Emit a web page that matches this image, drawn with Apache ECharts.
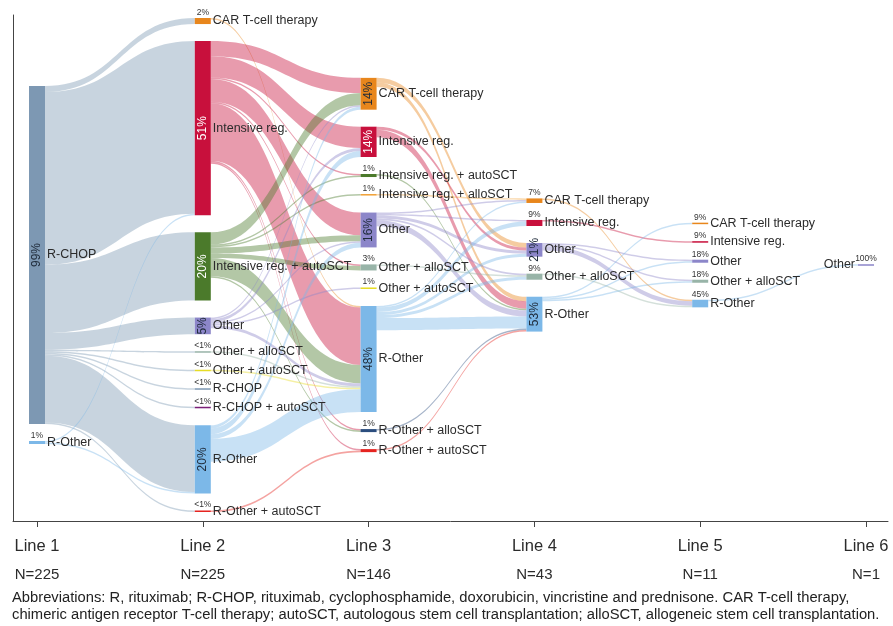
<!DOCTYPE html>
<html><head><meta charset="utf-8">
<script src="https://cdn.jsdelivr.net/npm/echarts@6/dist/echarts.min.js"></script>
<style>html,body{margin:0;padding:0;background:#fff}#c{width:893px;height:626px}</style>
</head><body><div id="c"></div>
<script>
// ---------- DATA ----------
const lineLabels = ['Line 1','Line 2','Line 3','Line 4','Line 5','Line 6'];
const lineN = [225,225,146,43,11,1];

const line1Nodes = ['R-CHOP','R-Other'];
const line1Counts = [223,2];
const line2Nodes = ['CAR T-cell therapy','Intensive reg.','Intensive reg. + autoSCT','Other','Other + alloSCT','Other + autoSCT','R-CHOP','R-CHOP + autoSCT','R-Other','R-Other + autoSCT'];
const line2Counts = [4,115,45,11,1,1,1,1,45,1];
const line3Nodes = ['CAR T-cell therapy','Intensive reg.','Intensive reg. + autoSCT','Intensive reg. + alloSCT','Other','Other + alloSCT','Other + autoSCT','R-Other','R-Other + alloSCT','R-Other + autoSCT'];
const line3Counts = [21,20,2,1,23,4,1,70,2,2];
const line4Nodes = ['CAR T-cell therapy','Intensive reg.','Other','Other + alloSCT','R-Other'];
const line4Counts = [3,4,9,4,23];
const line5Nodes = ['CAR T-cell therapy','Intensive reg.','Other','Other + alloSCT','R-Other'];
const line5Counts = [1,1,2,2,5];
const line6Nodes = ['Other'];
const line6Counts = [1];

const flows1to2 = [
  ['R-CHOP','CAR T-cell therapy',4],
  ['R-CHOP','Intensive reg.',114],
  ['R-CHOP','Intensive reg. + autoSCT',45],
  ['R-CHOP','Other',11],
  ['R-CHOP','Other + alloSCT',1],
  ['R-CHOP','Other + autoSCT',1],
  ['R-CHOP','R-CHOP',1],
  ['R-CHOP','R-CHOP + autoSCT',1],
  ['R-CHOP','R-Other',44],
  ['R-CHOP','R-Other + autoSCT',1],
  ['R-Other','Intensive reg.',1],
  ['R-Other','R-Other',1]
];
const flows2to3 = [
  ['CAR T-cell therapy','R-Other',1],
  ['Intensive reg.','CAR T-cell therapy',10],
  ['Intensive reg.','Intensive reg.',14],
  ['Intensive reg.','Intensive reg. + autoSCT',1],
  ['Intensive reg.','Other',15],
  ['Intensive reg.','Other + alloSCT',1],
  ['Intensive reg.','R-Other',38],
  ['Intensive reg.','R-Other + alloSCT',1],
  ['Intensive reg.','R-Other + autoSCT',1],
  ['Intensive reg. + autoSCT','CAR T-cell therapy',8],
  ['Intensive reg. + autoSCT','Intensive reg. + autoSCT',1],
  ['Intensive reg. + autoSCT','Intensive reg. + alloSCT',1],
  ['Intensive reg. + autoSCT','Other',4],
  ['Intensive reg. + autoSCT','Other + alloSCT',3],
  ['Intensive reg. + autoSCT','R-Other',12],
  ['Intensive reg. + autoSCT','R-Other + alloSCT',1],
  ['Other','CAR T-cell therapy',1],
  ['Other','Intensive reg.',2],
  ['Other','Other',1],
  ['Other','Other + autoSCT',1],
  ['Other','R-Other',2],
  ['Other + alloSCT','R-Other',1],
  ['Other + autoSCT','R-Other',1],
  ['R-Other','CAR T-cell therapy',2],
  ['R-Other','Intensive reg.',4],
  ['R-Other','Other',3],
  ['R-Other','R-Other',15],
  ['R-Other + autoSCT','R-Other + autoSCT',1]
];
const flows3to4 = [
  ['CAR T-cell therapy','Other',3],
  ['CAR T-cell therapy','R-Other',3],
  ['Intensive reg.','Other',2],
  ['Intensive reg.','R-Other',5],
  ['Intensive reg. + autoSCT','R-Other',1],
  ['Intensive reg. + alloSCT','CAR T-cell therapy',1],
  ['Other','CAR T-cell therapy',1],
  ['Other','Intensive reg.',1],
  ['Other','Other',2],
  ['Other','Other + alloSCT',1],
  ['Other','R-Other',4],
  ['Other + alloSCT','Other + alloSCT',1],
  ['R-Other','CAR T-cell therapy',1],
  ['R-Other','Intensive reg.',3],
  ['R-Other','Other',2],
  ['R-Other','Other + alloSCT',2],
  ['R-Other','R-Other',8],
  ['R-Other + alloSCT','R-Other',1],
  ['R-Other + autoSCT','R-Other',1]
];
const flows4to5 = [
  ['CAR T-cell therapy','R-Other',1],
  ['Intensive reg.','Intensive reg.',1],
  ['Other','Other',1],
  ['Other','Other + alloSCT',1],
  ['Other','R-Other',3],
  ['Other + alloSCT','R-Other',1],
  ['R-Other','CAR T-cell therapy',1],
  ['R-Other','Other',1],
  ['R-Other','Other + alloSCT',1]
];
const flows5to6 = [
  ['R-Other','Other',1]
];

const caption = 'Abbreviations: R, rituximab; R-CHOP, rituximab, cyclophosphamide, doxorubicin, vincristine and prednisone. CAR T-cell therapy,\nchimeric antigen receptor T-cell therapy; autoSCT, autologous stem cell transplantation; alloSCT, allogeneic stem cell transplantation.';

// ---------- STYLE ----------
const COLORS = {
  'CAR T-cell therapy': '#e8861c',
  'Intensive reg.': '#c8103c',
  'Intensive reg. + autoSCT': '#4b7a2b',
  'Intensive reg. + alloSCT': '#f0a035',
  'Other': '#8c86c9',
  'Other + alloSCT': '#98b4a8',
  'Other + autoSCT': '#e6dc25',
  'R-CHOP': '#7d98b3',
  'R-CHOP + autoSCT': '#7a1f78',
  'R-Other': '#7cb8e8',
  'R-Other + alloSCT': '#2b4d7e',
  'R-Other + autoSCT': '#e52420'
};
const FONT = '"Liberation Sans", Arial, Helvetica, sans-serif';
const S_LEFT = 29, S_RIGHT = 19, S_TOP = 18, S_BOTTOM = 114, NODE_W = 16, GAP = 17;
const GRID_LEFT = 13, GRID_RIGHT = 5, GRID_TOP = 15, GRID_BOTTOM = 105;
const W = 893 - S_LEFT - S_RIGHT, H = 626 - S_TOP - S_BOTTOM;

function isDark(hex) {
  const r = parseInt(hex.slice(1,3),16), g = parseInt(hex.slice(3,5),16), b = parseInt(hex.slice(5,7),16);
  return (0.299*r + 0.587*g + 0.114*b) < 120;
}

// ---------- BUILD ----------
const columns = [
  {names: line1Nodes, counts: line1Counts},
  {names: line2Nodes, counts: line2Counts},
  {names: line3Nodes, counts: line3Counts},
  {names: line4Nodes, counts: line4Counts},
  {names: line5Nodes, counts: line5Counts},
  {names: line6Nodes, counts: line6Counts}
];
const transitions = [flows1to2, flows2to3, flows3to4, flows4to5, flows5to6];

let ky = Infinity;
columns.forEach(c => {
  const s = c.counts.reduce((a,b)=>a+b,0);
  ky = Math.min(ky, (H - (c.names.length-1)*GAP) / s);
});

// centre every column vertically (ordering kept as listed)
const nodes = [];
const displayName = {};
columns.forEach((c, ci) => {
  const total = c.counts.reduce((a,b)=>a+b,0) * ky + (c.names.length-1) * GAP;
  let y = (H - total) / 2;
  c.names.forEach((nm, ni) => {
    const id = 'L' + (ci+1) + '|' + nm;
    const cnt = c.counts[ni];
    const p = cnt / lineN[ci] * 100;
    const pct = p < 0.5 ? '<1%' : Math.round(p) + '%';
    nodes.push({id, nm, ci, cnt, pct, localY: y / H});
    displayName[id] = nm;
    y += cnt * ky + GAP;
  });
});

const links = [];
transitions.forEach((fl, ti) => {
  fl.forEach(([s, t, v]) => {
    links.push({source: 'L' + (ti+1) + '|' + s, target: 'L' + (ti+2) + '|' + t, value: v});
  });
});

const nameData = nodes.map(n => ({
  name: n.id, depth: n.ci, value: n.cnt, localY: n.localY,
  itemStyle: {color: COLORS[n.nm]},
  label: n.ci === 5 ? {position: 'left', distance: 3} : {position: 'right', distance: 2}
}));

const pctData = nodes.map(n => {
  const big = n.cnt >= 8;
  const col = COLORS[n.nm];
  return {
    name: n.id, depth: n.ci, value: n.cnt, localY: n.localY,
    itemStyle: {color: 'rgba(0,0,0,0)', borderWidth: 0},
    label: big
      ? {position: 'inside', rotate: 90, fontSize: 12, color: isDark(col) ? '#ffffff' : '#1f2b3a', formatter: n.pct}
      : {position: 'top', distance: 1, fontSize: 8.5, color: '#333333', formatter: n.pct}
  };
});

const tickVals = lineLabels.map((_, i) => i + 1);
const kx = (W - NODE_W) / (lineLabels.length - 1);
const firstCenter = S_LEFT + NODE_W / 2;
const xMin = 1 - (firstCenter - GRID_LEFT) / kx;
const xMax = 1 + ((893 - GRID_RIGHT) - firstCenter) / kx;

const commonSankey = {
  type: 'sankey',
  left: S_LEFT, right: S_RIGHT, top: S_TOP, bottom: S_BOTTOM,
  nodeWidth: NODE_W, nodeGap: GAP,
  layoutIterations: 0,
  nodeAlign: 'left',
  draggable: false,
  emphasis: {disabled: true},
  animation: false
};

const option = {
  animation: false,
  backgroundColor: '#ffffff',
  textStyle: {fontFamily: FONT},
  title: {
    text: caption, left: 12, top: 589, padding: 0,
    textStyle: {fontSize: 14.75, fontWeight: 'normal', color: '#222222', lineHeight: 17, fontFamily: FONT}
  },
  grid: {left: GRID_LEFT, right: GRID_RIGHT, top: GRID_TOP, bottom: GRID_BOTTOM},
  xAxis: {
    type: 'value', min: xMin, max: xMax,
    splitLine: {show: false},
    axisLine: {show: true, lineStyle: {color: '#444444', width: 1}},
    axisTick: {show: true, customValues: tickVals, length: 6, lineStyle: {color: '#444444'}},
    axisLabel: {
      customValues: tickVals, margin: 13,
      formatter: v => {
        const i = Math.round(v) - 1;
        return '{a|' + lineLabels[i] + '}\n{b|N=' + lineN[i] + '}';
      },
      rich: {
        a: {fontSize: 16.5, lineHeight: 24, color: '#2b2b2b', fontFamily: FONT},
        b: {fontSize: 15, lineHeight: 33, color: '#2b2b2b', fontFamily: FONT}
      }
    }
  },
  yAxis: {
    type: 'value', min: 0, max: 1,
    splitLine: {show: false}, axisTick: {show: false}, axisLabel: {show: false},
    axisLine: {show: true, lineStyle: {color: '#444444', width: 1}}
  },
  series: [
    {type: 'line', data: [], silent: true},
    Object.assign({}, commonSankey, {
      data: nameData, links: links,
      lineStyle: {color: 'source', opacity: 0.42, curveness: 0.5},
      label: {fontSize: 12.5, color: '#2b2b2b', fontFamily: FONT, formatter: p => displayName[p.name]}
    }),
    Object.assign({}, commonSankey, {
      silent: true, z: 5,
      data: pctData, links: links,
      lineStyle: {color: 'rgba(0,0,0,0)', opacity: 0},
      label: {fontFamily: FONT}
    })
  ]
};
const chart = echarts.init(document.getElementById('c'));
chart.setOption(option);
</script>
</body></html>
